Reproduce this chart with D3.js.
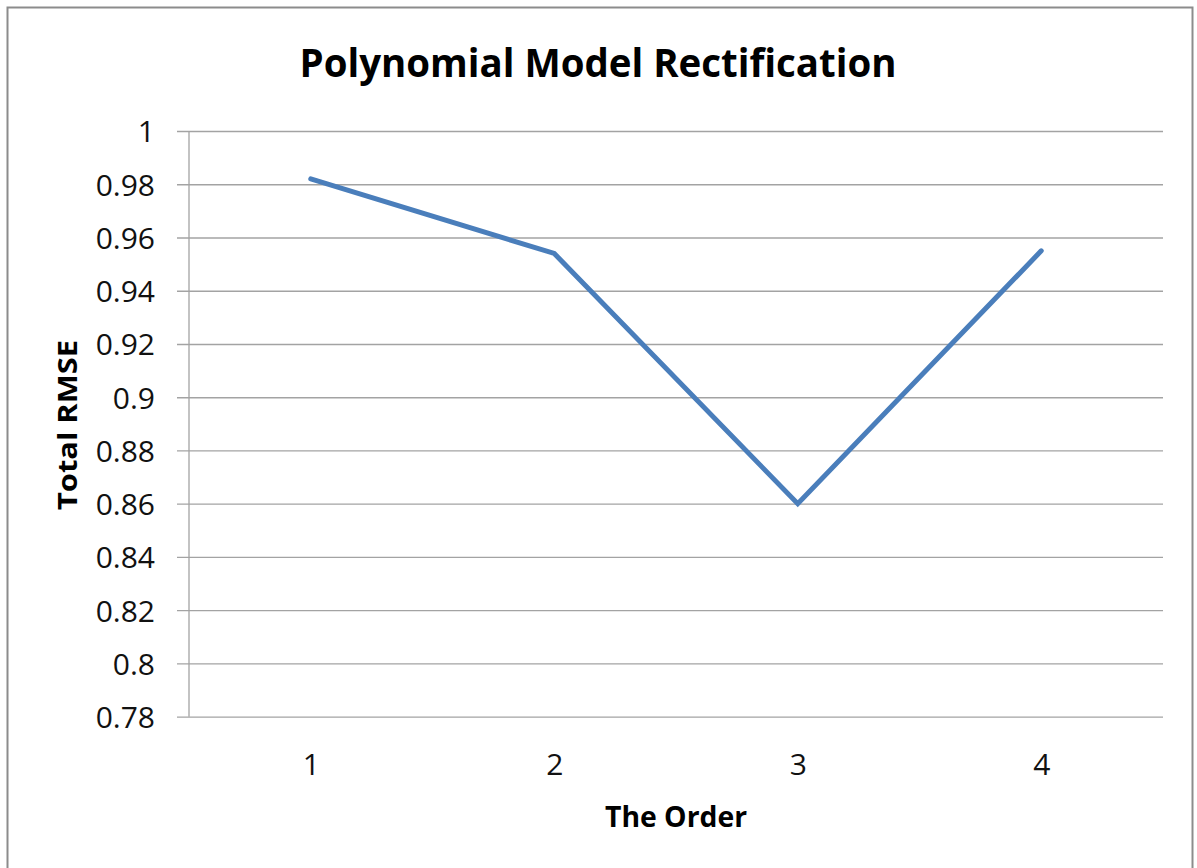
<!DOCTYPE html>
<html>
<head>
<meta charset="utf-8">
<script src="https://cdn.jsdelivr.net/npm/d3@7"></script>
<style>
  html, body { margin: 0; padding: 0; background: #fff; }
  svg { display: block; font-family: "Open Sans", "DejaVu Sans", sans-serif; }
</style>
</head>
<body>
<svg id="chart" width="1197" height="868"></svg>
<script>
// ---- data ----
const categories = [1, 2, 3, 4];
const rmseValues = [0.982, 0.954, 0.86, 0.955];
const yTickValues = [0.78, 0.8, 0.82, 0.84, 0.86, 0.88, 0.9, 0.92, 0.94, 0.96, 0.98, 1];
const yTickLabels = ["0.78", "0.8", "0.82", "0.84", "0.86", "0.88", "0.9", "0.92", "0.94", "0.96", "0.98", "1"];
const chartTitle = "Polynomial Model Rectification";
const xTitle = "The Order";
const yTitle = "Total RMSE";

// ---- layout ----
const svg = d3.select("#chart");
const plot = { left: 189, right: 1163, top: 131, bottom: 716.7 };
const FONT = '"Open Sans", "DejaVu Sans", sans-serif';

// outer border
svg.append("rect")
  .attr("x", 7.5).attr("y", 7.5)
  .attr("width", 1185).attr("height", 880)
  .attr("fill", "#fff").attr("stroke", "#8c8c8c").attr("stroke-width", 2);

const x = d3.scalePoint().domain(categories).range([plot.left, plot.right]).padding(0.5);
const y = d3.scaleLinear().domain([0.78, 1]).range([plot.bottom, plot.top]);

// gridlines + y tick marks (extend left of axis)
const yAxis = d3.axisLeft(y)
  .tickValues(yTickValues)
  .tickSize(plot.right - plot.left + 12)
  .tickFormat((d, i) => yTickLabels[i]);

const gy = svg.append("g")
  .attr("transform", `translate(${plot.right},0)`)
  .call(yAxis)
  .attr("font-family", FONT)
  .attr("font-size", 30);
gy.select(".domain").remove();
gy.selectAll(".tick line").attr("stroke", "#a3a3a3").attr("stroke-width", 1.3);
gy.selectAll(".tick text")
  .attr("x", -(plot.right - 155))
  .attr("dy", "0.36em")
  .attr("fill", "#111");

// vertical axis line
svg.append("line")
  .attr("x1", plot.left).attr("x2", plot.left)
  .attr("y1", plot.top).attr("y2", plot.bottom)
  .attr("stroke", "#a3a3a3").attr("stroke-width", 1.3);

// x axis labels
const xAxis = d3.axisBottom(x).tickSize(0).tickPadding(0);
const gx = svg.append("g")
  .attr("transform", `translate(0,${plot.bottom})`)
  .call(xAxis)
  .attr("font-family", FONT)
  .attr("font-size", 30);
gx.select(".domain").remove();
gx.selectAll(".tick text")
  .attr("y", 58)
  .attr("dy", 0)
  .attr("fill", "#111");

// line
const line = d3.line()
  .x((d, i) => x(categories[i]))
  .y(d => y(d));
svg.append("path")
  .datum(rmseValues)
  .attr("d", line)
  .attr("fill", "none")
  .attr("stroke", "#4a7ebb")
  .attr("stroke-width", 5)
  .attr("stroke-linecap", "round")
  .attr("stroke-linejoin", "miter");

// titles
svg.append("text")
  .attr("x", 598).attr("y", 77)
  .attr("text-anchor", "middle")
  .attr("font-weight", "bold")
  .style("font-size", "40px")
  .attr("textLength", 597)
  .attr("lengthAdjust", "spacingAndGlyphs")
  .text(chartTitle);

svg.append("text")
  .attr("x", 676).attr("y", 827)
  .attr("text-anchor", "middle")
  .attr("font-weight", "bold")
  .style("font-size", "28px")
  .attr("textLength", 142)
  .attr("lengthAdjust", "spacingAndGlyphs")
  .text(xTitle);

svg.append("text")
  .attr("transform", "translate(77,425) rotate(-90)")
  .attr("text-anchor", "middle")
  .attr("font-weight", "bold")
  .style("font-size", "27px")
  .attr("textLength", 170)
  .attr("lengthAdjust", "spacingAndGlyphs")
  .text(yTitle);
</script>
</body>
</html>
